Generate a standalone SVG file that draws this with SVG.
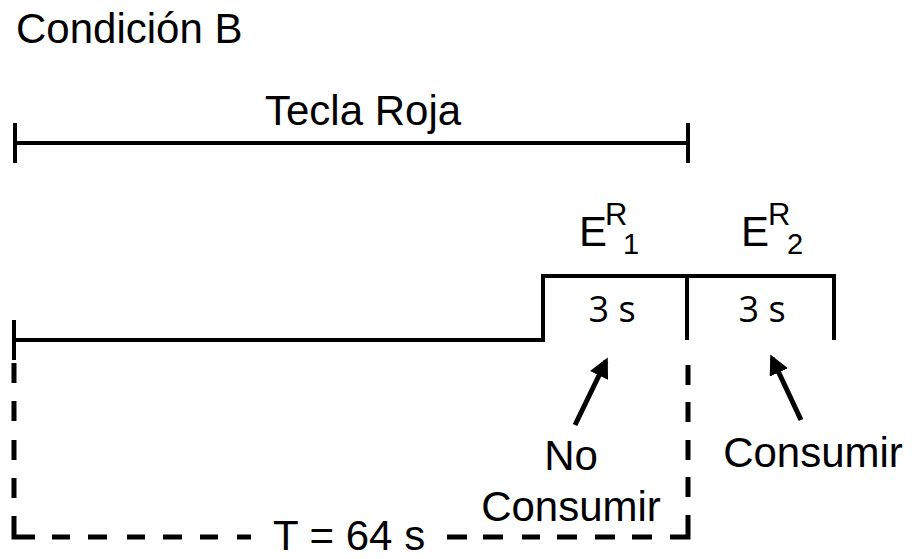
<svg xmlns="http://www.w3.org/2000/svg" width="912" height="559" viewBox="0 0 912 559">
<defs>
<style>
.t{font-family:"Liberation Sans",Arial,sans-serif;font-size:42px;fill:#000}
.s{font-family:"Open Sans","Liberation Sans",sans-serif;font-size:36px;fill:#000}
.ln{stroke:#000;stroke-width:4;fill:none}
.ds{stroke:#000;stroke-width:5;fill:none}
.ar{stroke:#000;stroke-width:5;fill:none}
</style>
<marker id="ah" viewBox="0 0 10 10" refX="8" refY="5" markerWidth="4" markerHeight="4" orient="auto" markerUnits="strokeWidth">
<path d="M0,0 L10,5 L0,10 z" fill="#000"/>
</marker>
</defs>
<rect width="912" height="559" fill="#fff"/>
<g id="title"><text class="t" x="16" y="43">Condición B</text></g>
<g id="tecla-roja">
<text class="t" x="265" y="125">Tecla Roja</text>
<path class="ln" d="M15 143 H688 M15 123 V163 M688 123 V163"/>
</g>
<g id="timeline">
<path class="ln" d="M14 320 V360 M14 340 H543 V276 H834 V340 M687 276 V340"/>
</g>
<g id="er1">
<text class="t" x="579" y="246">E</text>
<text class="t" x="605" y="225" style="font-size:31px">R</text>
<text class="t" x="623" y="254" style="font-size:29px">1</text>
<text class="s" x="612" y="322" text-anchor="middle">3 s</text>
</g>
<g id="er2">
<text class="t" x="741" y="246">E</text>
<text class="t" x="768" y="225" style="font-size:31px">R</text>
<text class="t" x="787" y="254" style="font-size:29px">2</text>
<text class="s" x="762" y="322" text-anchor="middle">3 s</text>
</g>
<g id="interval">
<path class="ds" d="M14 363 V383 M14 401 V421 M14 440 V460 M14 478 V498 M14 516 V537 H35 M52 537 H70 M88 537 H107 M127 537 H145 M163 537 H182 M200 537 H218 M237 537 H251 M447 537 H467 M483 537 H503 M522 537 H540 M557 537 H577 M595 537 H615 M632 537 H652 M670 537 H688 V515 M688 497 V477 M688 460 V440 M688 422 V402 M688 385 V365"/>
<text class="t" x="273" y="550">T = 64 s</text>
</g>
<g id="no-consumir">
<text class="t" x="571" y="470" text-anchor="middle">No</text>
<text class="t" x="571" y="521" text-anchor="middle">Consumir</text>
</g>
<g id="consumir">
<text class="t" x="813" y="467" text-anchor="middle">Consumir</text>
</g>
<g id="connectors">
<path class="ar" d="M575 425 L606 361" marker-end="url(#ah)"/>
<path class="ar" d="M801 420 L772 358" marker-end="url(#ah)"/>
</g>
</svg>
